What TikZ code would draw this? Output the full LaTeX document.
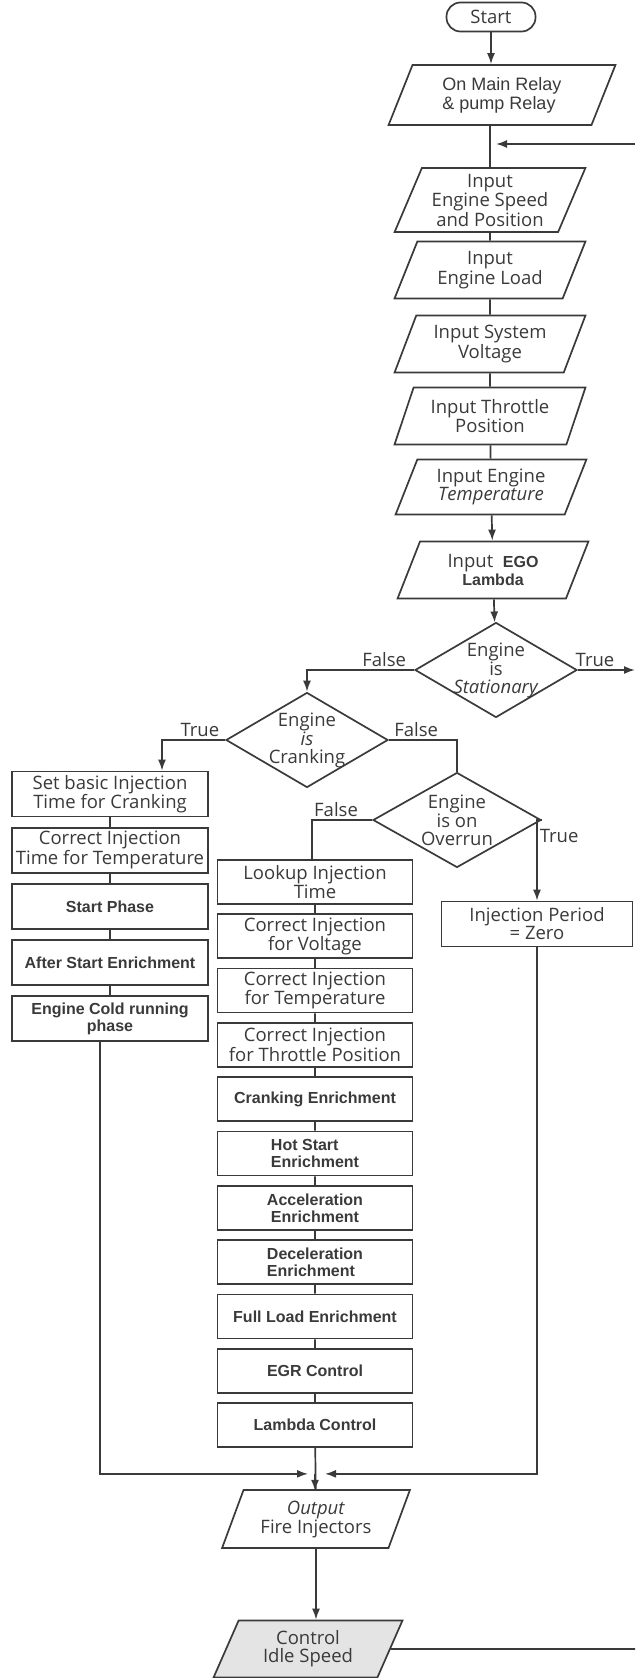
\documentclass[tikz,border=0pt]{standalone}
\usepackage{fontspec}
\newfontfamily\gillfont{Open Sans}
\newfontfamily\arialfont{Liberation Sans}
\usetikzlibrary{positioning}
\usetikzlibrary{shapes, arrows.meta}

\definecolor{inkgray}{HTML}{3A3A3A}
\definecolor{idlegray}{HTML}{E4E4E4}
\newcommand{\gilltext}{\gillfont\fontsize{18.5}{18}\selectfont}
\newcommand{\arialbold}{\arialfont\bfseries\fontsize{16}{17}\selectfont}

\begin{document}
\begin{tikzpicture}[x=1pt,y=-1pt,>={Latex[length=11pt,width=8pt]},
  every node/.style={inner sep=1pt,text=inkgray,align=center,font=\gilltext},
  conn/.style={draw=inkgray,line width=1.7pt},
  flowlabel/.style={inner sep=2pt},
  iobox/.style={trapezium,trapezium left angle=66,trapezium right angle=114,trapezium stretches=true,draw=inkgray,line width=1.7pt,minimum width=191,minimum height=57,inner sep=0pt},
  procbox/.style={rectangle,draw=inkgray,line width=1.7pt,minimum width=195,minimum height=44,inner ysep=1pt},
  crankbox/.style={procbox,minimum width=196,minimum height=45},
  testbox/.style={diamond,draw=inkgray,line width=1.7pt,aspect=1.7,inner sep=-4pt,minimum width=162,minimum height=95},
  startbox/.style={rectangle,rounded corners=14pt,draw=inkgray,line width=1.7pt,minimum width=89,minimum height=29},
  ]
  \useasboundingbox (0,0) rectangle (635,1678);
  % main column
  \node[startbox] (start) at (491,17) {Start};
  \node[iobox,minimum width=227,minimum height=60,font=\arialfont\fontsize{18}{19}\selectfont,align=left] (relay) at (502,95) {On Main Relay\\\& pump Relay};
  \node[iobox,minimum height=64] (speed) at (490,200) {Input\\Engine Speed\\and Position};
  \node[iobox] (load) at (490,270) {Input\\Engine Load};
  \node[iobox] (volt) at (490,344) {Input System\\Voltage};
  \node[iobox] (thr) at (490,416) {Input Throttle\\Position};
  \node[iobox,minimum height=55] (temp) at (491,487) {Input Engine\\\textit{Temperature}};
  \node[iobox] (ego) at (493,570) {Input\ \ {\arialbold EGO}\\{\arialbold Lambda}};
  \node[testbox] (stat) at (496,670) {Engine\\is\\\textit{Stationary}};
  % decisions
  \node[testbox] (crank) at (307,740) {Engine\\\textit{is}\\Cranking};
  \node[testbox,minimum width=168] (over) at (457,820) {Engine\\is on\\Overrun};
  \node[procbox,minimum width=191,minimum height=45] (inj) at (537,924) {Injection Period\\= Zero};
  % cranking branch
  \node[crankbox] (setinj) at (110,794) {Set basic Injection\\Time for Cranking};
  \node[crankbox,below=9.5pt of setinj] (tempinj) {Correct Injection\\Time for Temperature};
  \node[crankbox,below=9.5pt of tempinj,font=\arialbold] (startph) {Start Phase};
  \node[crankbox,below=9.5pt of startph,font=\arialbold] (afterst) {After Start Enrichment};
  \node[crankbox,below=9.5pt of afterst,font=\arialbold] (coldrun) {Engine Cold running\\phase};
  % running branch
  \node[procbox] (lookup) at (315,882) {Lookup Injection\\Time};
  \node[procbox,below=8.6pt of lookup] (corvolt) {Correct Injection\\for Voltage};
  \node[procbox,below=8.6pt of corvolt] (cortemp) {Correct Injection\\for Temperature};
  \node[procbox,below=8.6pt of cortemp] (corthr) {Correct Injection\\for Throttle Position};
  \node[procbox,below=8.6pt of corthr,font=\arialbold] (crankenr) {Cranking Enrichment};
  \node[procbox,below=8.6pt of crankenr,font=\arialbold,align=left] (hotstart) {Hot Start\\Enrichment};
  \node[procbox,below=8.6pt of hotstart,font=\arialbold] (accel) {Acceleration\\Enrichment};
  \node[procbox,below=8.6pt of accel,font=\arialbold,align=left] (decel) {Deceleration\\Enrichment};
  \node[procbox,below=8.6pt of decel,font=\arialbold] (fullload) {Full Load Enrichment};
  \node[procbox,below=8.6pt of fullload,font=\arialbold] (egr) {EGR Control};
  \node[procbox,below=8.6pt of egr,font=\arialbold] (lambda) {Lambda Control};
  % outputs
  \node[iobox,minimum width=188,minimum height=58] (output) at (316,1519) {\textit{Output}\\Fire Injectors};
  \node[iobox,fill=idlegray,minimum width=189] (idle) at (308,1649) {Control\\Idle Speed};

  % connectors
  \coordinate (back) at (635,144);
  \coordinate (statout) at (635,670);
  \coordinate (idleout) at (635,1649);
  \coordinate (merge) at ([yshift=-26pt]lambda.south);
  \draw[conn,->] (start) -- (start.south |- relay.north);
  \draw[conn] (speed.north |- relay.south) -- (speed.north);
  \draw[conn,->] (back) -- ([xshift=6pt]back -| speed.north);
  \draw[conn] (speed) -- (load) (load) -- (volt) (volt) -- (thr) (thr) -- (temp);
  \draw[conn,->] (temp) -- (ego);
  \draw[conn,->] (ego) -- (stat);
  \draw[conn,->] (stat.east) -- (statout) node[flowlabel,above,pos=0.3] {True};
  \draw[conn,->] (stat.west) -| (crank.north) node[flowlabel,above,pos=0.14] {False};
  \draw[conn,->] (crank.west) -| ([xshift=52pt]setinj.north) node[flowlabel,above,pos=0.2] {True};
  \draw[conn] (crank.east) -| (over.north) node[flowlabel,above,pos=0.2] {False};
  \draw[conn] (over.west) -| ([xshift=-3pt]lookup.north) node[flowlabel,above,pos=0.3] {False};
  \draw[conn,->] (over.east) -| (inj.north) node[flowlabel,right,pos=0.6] {True};
  \draw[conn] (setinj) -- (tempinj) (tempinj) -- (startph) (startph) -- (afterst) (afterst) -- (coldrun);
  \draw[conn] (lookup) -- (corvolt) (corvolt) -- (cortemp) (cortemp) -- (corthr) (corthr) -- (crankenr)
    (crankenr) -- (hotstart) (hotstart) -- (accel) (accel) -- (decel) (decel) -- (fullload)
    (fullload) -- (egr) (egr) -- (lambda) (lambda) -- (output);
  \draw[conn,->] ([xshift=-10pt]coldrun.south) |- ([xshift=-7pt]merge);
  \draw[conn,->] (inj.south) |- ([xshift=10pt]merge);
  \draw[conn,->] (merge) -- ([yshift=-17pt]merge);
  \draw[conn,->] (output.south) -- (output.south |- idle.north);
  \draw[conn] (idle.east) -- (idleout);
\end{tikzpicture}
\end{document}
